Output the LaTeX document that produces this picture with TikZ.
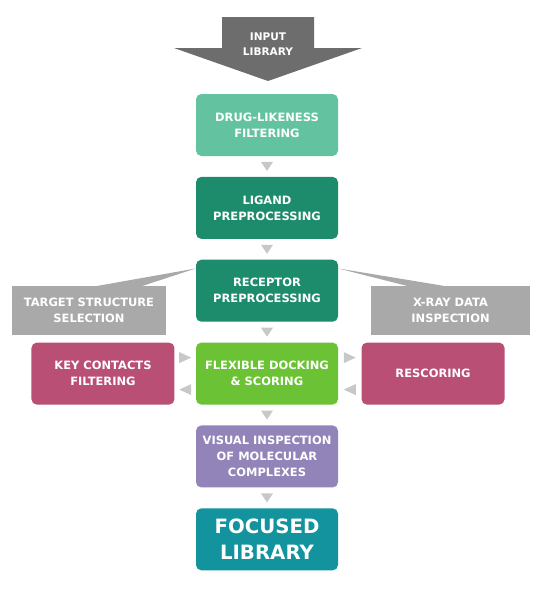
\documentclass[tikz,border=0pt]{standalone}
\usepackage{fontspec}
\setmainfont{DejaVu Sans}
\usepackage{tikz}
\usetikzlibrary{positioning,calc}
\definecolor{vsDrug}{HTML}{63C3A1}
\definecolor{vsPrep}{HTML}{1D8C6C}
\definecolor{vsDock}{HTML}{6CC235}
\definecolor{vsRescore}{HTML}{B94F75}
\definecolor{vsVisual}{HTML}{9283B8}
\definecolor{vsFocused}{HTML}{13939E}
\definecolor{vsNote}{HTML}{A9A9A9}
\definecolor{vsInput}{HTML}{6D6D6D}
\definecolor{vsMuted}{HTML}{C8C8C8}
\tikzset{
    vsBoxBase/.style={
        rectangle,
        rounded corners=4pt,
        minimum height=46.5pt,
        minimum width=106.5pt,
        font=\fontsize{8.6}{12}\selectfont\bfseries,
        text=white,
        align=center,
        inner sep=3pt
    },
    % Semantic Variants
    drug/.style={vsBoxBase, fill=vsDrug},
    prep/.style={vsBoxBase, fill=vsPrep},
    dock/.style={vsBoxBase, fill=vsDock},
    rescore/.style={vsBoxBase, fill=vsRescore, minimum width=107.25pt},
    visual/.style={vsBoxBase, fill=vsVisual},
    focused/.style={vsBoxBase, fill=vsFocused, font=\fontsize{14.8}{19.5}\selectfont\bfseries},
    note/.style={vsBoxBase, rounded corners=0pt, fill=vsNote, minimum height=36.6pt},
    % Tips and arrow
    vsTip/.style={fill=vsMuted},
    vsInputText/.style={font=\fontsize{7.9}{11.3}\selectfont\bfseries, text=white, align=center}
}
\begin{document}
\begin{tikzpicture}[x=0.75pt, y=-0.75pt]
    \useasboundingbox (0,0) rectangle (542,589);

    % input arrow
    \fill[vsInput] (222,17) -- (314,17) -- (314,48) -- (362,48) -- (268,81) -- (174,48) -- (222,48) -- cycle;
    \node[vsInputText] (input) at (268,44) {INPUT\\LIBRARY};

    % main column
    \node[drug] (drug) at (267,125) {DRUG-LIKENESS\\FILTERING};
    \node[prep, below=15.25pt of drug] (ligand) {LIGAND\\PREPROCESSING};
    \node[prep, below=15.25pt of ligand] (receptor) {RECEPTOR\\PREPROCESSING};
    \node[dock, below=15.25pt of receptor] (dock) {FLEXIBLE DOCKING\\\& SCORING};
    \node[visual, below=15.25pt of dock] (visual) {VISUAL INSPECTION\\OF MOLECULAR\\COMPLEXES};
    \node[focused, below=15.25pt of visual] (focused) {FOCUSED\\LIBRARY};

    % side boxes
    \node[rescore, left=15.75pt of dock] (key) {KEY CONTACTS\\FILTERING};
    \node[rescore, right=17.25pt of dock] (resc) {RESCORING};
    \node[note, minimum width=115.5pt] (target) at (89,310.5) {TARGET STRUCTURE\\SELECTION};
    \node[note, minimum width=119.25pt] (xray) at (450.5,310.5) {X-RAY DATA\\INSPECTION};

    % callout wedges
    \fill[vsNote] ($(target.north west)+(86,0)$) -- ($(receptor.north west)+(0,9)$) -- ($(target.north west)+(131,0)$) -- cycle;
    \fill[vsNote] ($(receptor.north east)+(0,9)$) -- ($(xray.north west)+(73,0)$) -- ($(xray.north west)+(36,0)$) -- cycle;

    % tips
    \foreach \a/\b in {drug/ligand, ligand/receptor, receptor/dock, dock/visual, visual/focused}
        \fill[vsTip] ($(\a.south)!0.5!(\b.north)+(-6,-4.5)$) -- ++(12,0) -- ++(-6,9) -- cycle;
    \foreach \a/\b in {key/dock, dock/resc} {
        \fill[vsTip] ($(\a.east)!0.5!(\b.west)+(-6,-21.5)$) -- ++(0,11) -- ++(12,-5.5) -- cycle;
        \fill[vsTip] ($(\a.east)!0.5!(\b.west)+(6,10.5)$) -- ++(0,11) -- ++(-12,-5.5) -- cycle;
    }
\end{tikzpicture}
\end{document}
